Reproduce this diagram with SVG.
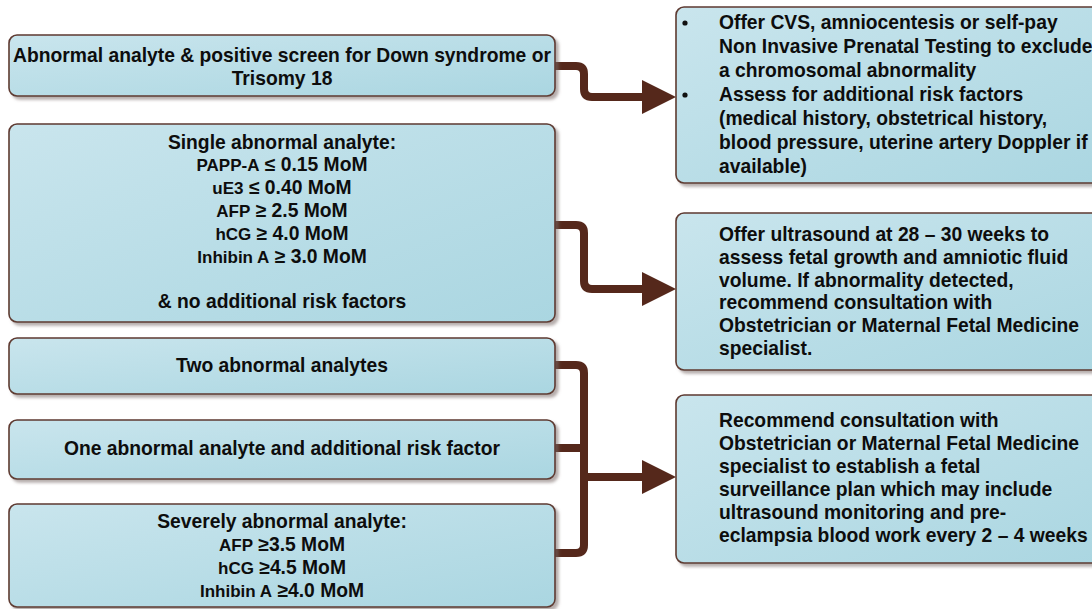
<svg xmlns="http://www.w3.org/2000/svg" width="1092" height="609" viewBox="0 0 1092 609">
<defs>
<linearGradient id="fillg" x1="0" y1="0" x2="1" y2="1">
<stop offset="0" stop-color="#c9e5ed"/>
<stop offset="1" stop-color="#aad6e1"/>
</linearGradient>
<filter id="sh" x="-5%" y="-10%" width="115%" height="130%">
<feDropShadow dx="3" dy="3" stdDeviation="1.5" flood-color="#7a6a66" flood-opacity="0.55"/>
</filter>
<marker id="arr" markerUnits="userSpaceOnUse" markerWidth="36" markerHeight="36" refX="8" refY="17" orient="auto">
<path d="M0,0 L34,17 L0,34 Z" fill="#55281b"/>
</marker>
<style>
.box{fill:url(#fillg);stroke:#5e3a30;stroke-width:1.6;filter:url(#sh)}
.t{font-family:"Liberation Sans",Arial,sans-serif;font-weight:bold;font-size:19.3px;fill:#0d0d0d}
.c{text-anchor:middle}
.s{font-size:17px}
.con{fill:none;stroke:#55281b;stroke-width:8;stroke-linejoin:round}
</style>
</defs>
<rect width="1092" height="609" fill="#ffffff"/>

<g id="connectors">
<path class="con" d="M555,66 H576 Q584,66 584,74 V89 Q584,97 592,97 H650" marker-end="url(#arr)"/>
<path class="con" d="M555,225 H576 Q584,225 584,233 V281 Q584,289 592,289 H650" marker-end="url(#arr)"/>
<path class="con" d="M555,365 H576 Q584,365 584,373 V545 Q584,553 576,553 H555"/>
<path class="con" d="M555,448 H584"/>
<path class="con" d="M584,477 H650" marker-end="url(#arr)"/>
</g>

<g id="node-abnormal-positive">
<rect class="box" x="9" y="35" width="546" height="61" rx="8"/>
<text class="t c" x="282" y="62">Abnormal analyte &amp; positive screen for Down syndrome or</text>
<text class="t c" x="282" y="85">Trisomy 18</text>
</g>

<g id="node-single-abnormal">
<rect class="box" x="9" y="124" width="546" height="198" rx="8"/>
<text class="t c" x="282" y="149">Single abnormal analyte:</text>
<text class="t c" x="282" y="171"><tspan class="s">PAPP-A</tspan> ≤ 0.15 MoM</text>
<text class="t c" x="282" y="194"><tspan class="s">uE3</tspan> ≤ 0.40 MoM</text>
<text class="t c" x="282" y="217"><tspan class="s">AFP</tspan> ≥ 2.5 MoM</text>
<text class="t c" x="282" y="240"><tspan class="s">hCG</tspan> ≥ 4.0 MoM</text>
<text class="t c" x="282" y="263"><tspan class="s">Inhibin A</tspan> ≥ 3.0 MoM</text>
<text class="t c" x="282" y="308">&amp; no additional risk factors</text>
</g>

<g id="node-two-abnormal">
<rect class="box" x="9" y="338" width="546" height="56" rx="8"/>
<text class="t c" x="282" y="372">Two abnormal analytes</text>
</g>

<g id="node-one-abnormal-risk">
<rect class="box" x="9" y="420" width="546" height="59" rx="8"/>
<text class="t c" x="282" y="455">One abnormal analyte and additional risk factor</text>
</g>

<g id="node-severely-abnormal">
<rect class="box" x="9" y="504" width="546" height="103" rx="8"/>
<text class="t c" x="282" y="528">Severely abnormal analyte:</text>
<text class="t c" x="282" y="551"><tspan class="s">AFP</tspan> ≥3.5 MoM</text>
<text class="t c" x="282" y="574"><tspan class="s">hCG</tspan> ≥4.5 MoM</text>
<text class="t c" x="282" y="597"><tspan class="s">Inhibin A</tspan> ≥4.0 MoM</text>
</g>

<g id="node-offer-cvs">
<rect class="box" x="676" y="7" width="440" height="176" rx="8"/>
<circle cx="685" cy="23" r="2.6" fill="#111"/>
<circle cx="685" cy="95" r="2.6" fill="#111"/>
<text class="t" x="719" y="29">Offer CVS, amniocentesis or self-pay</text>
<text class="t" x="719" y="53">Non Invasive Prenatal Testing to exclude</text>
<text class="t" x="719" y="77">a chromosomal abnormality</text>
<text class="t" x="719" y="101">Assess for additional risk factors</text>
<text class="t" x="719" y="125">(medical history, obstetrical history,</text>
<text class="t" x="719" y="149">blood pressure, uterine artery Doppler if</text>
<text class="t" x="719" y="173">available)</text>
</g>

<g id="node-offer-ultrasound">
<rect class="box" x="676" y="213" width="440" height="157" rx="8"/>
<text class="t" x="719" y="241">Offer ultrasound at 28 – 30 weeks to</text>
<text class="t" x="719" y="264">assess fetal growth and amniotic fluid</text>
<text class="t" x="719" y="287">volume. If abnormality detected,</text>
<text class="t" x="719" y="309">recommend consultation with</text>
<text class="t" x="719" y="332">Obstetrician or Maternal Fetal Medicine</text>
<text class="t" x="719" y="355">specialist.</text>
</g>

<g id="node-recommend-consultation">
<rect class="box" x="676" y="395" width="440" height="168" rx="8"/>
<text class="t" x="719" y="427">Recommend consultation with</text>
<text class="t" x="719" y="450">Obstetrician or Maternal Fetal Medicine</text>
<text class="t" x="719" y="473">specialist to establish a fetal</text>
<text class="t" x="719" y="496">surveillance plan which may include</text>
<text class="t" x="719" y="519">ultrasound monitoring and pre-</text>
<text class="t" x="719" y="542">eclampsia blood work every 2 – 4 weeks</text>
</g>
</svg>
